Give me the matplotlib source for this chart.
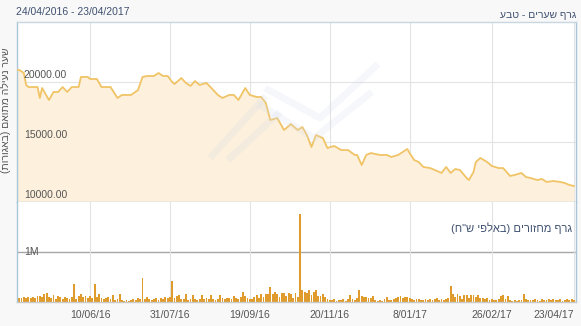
import numpy as np
import matplotlib
matplotlib.use("Agg")
import matplotlib.pyplot as plt
from matplotlib.lines import Line2D

plt.rcParams['font.family'] = ['Liberation Sans', 'DejaVu Sans']

# trading-day index -> adjusted close (agorot)
price_day = [0, 1, 3, 4, 5, 7, 9, 10, 11, 14, 16, 18, 20, 22, 24, 27, 28, 31, 32, 35,
             37, 41, 44, 46, 50, 53, 55, 57, 60, 62, 64, 66, 68, 69, 72, 74, 76, 78, 80, 83,
             86, 88, 90, 93, 95, 97, 100, 102, 105, 107, 109, 111, 114, 115, 117, 119, 120, 123, 125, 127,
             129, 131, 134, 136, 139, 142, 145, 148, 149, 151, 153, 155, 159, 162, 164, 167, 171, 172, 174, 176,
             178, 181, 183, 186, 188, 190, 192, 194, 197, 198, 200, 201, 203, 206, 208, 211, 213, 216, 218, 221,
             223, 225, 228, 230, 232, 235, 238, 240, 242, 244]
price_val = [21000, 21000, 20750, 19750, 19580, 19580, 19580, 18670, 19500, 18500,
             19170, 19170, 19580, 19170, 19580, 19580, 20420, 20420, 20250, 20250,
             19580, 19580, 18670, 18920, 18920, 19330, 20420, 20500, 20500, 20750,
             20500, 20500, 20000, 19830, 20330, 19920, 19670, 20080, 19750, 19920,
             19330, 18920, 18670, 18920, 18920, 18500, 19500, 18920, 18750, 18750,
             18250, 16830, 17000, 16670, 16000, 16330, 16500, 16000, 16250, 15580,
             14580, 15580, 15330, 14500, 14670, 14330, 14330, 13920, 13920, 13080,
             13920, 14080, 13920, 13920, 13750, 13920, 14420, 14080, 13500, 13330,
             12920, 12830, 12670, 12420, 12920, 12420, 12750, 12670, 12000, 11830,
             12500, 13330, 13670, 13330, 13000, 12830, 12830, 12170, 12250, 12420,
             12080, 12000, 11830, 11920, 11670, 11750, 11670, 11580, 11420, 11330]

# daily turnover, thousands of NIS
volume = [80, 90, 85, 95, 90, 100, 85, 110, 90, 120,
          130, 100, 160, 180, 110, 90, 140, 70, 120, 100,
          70, 110, 90, 60, 110, 370, 60, 120, 160, 100,
          130, 90, 120, 80, 370, 110, 170, 80, 60, 90,
          100, 70, 150, 50, 60, 160, 40, 30, 40, 30,
          50, 60, 40, 80, 60, 490, 70, 110, 60, 50,
          70, 90, 50, 80, 60, 100, 80, 110, 420, 90,
          130, 150, 70, 60, 160, 50, 70, 140, 60, 40,
          60, 140, 60, 80, 70, 150, 60, 40, 70, 140,
          80, 60, 80, 90, 70, 120, 90, 60, 110, 200,
          120, 80, 60, 70, 100, 140, 90, 170, 110, 160,
          170, 300, 170, 200, 170, 110, 180, 190, 120, 180,
          170, 90, 190, 100, 1760, 240, 200, 180, 240, 140,
          200, 240, 130, 120, 160, 100, 60, 50, 40, 60,
          30, 50, 40, 60, 30, 70, 140, 60, 50, 80,
          240, 120, 100, 110, 90, 80, 130, 40, 30, 50,
          30, 60, 100, 40, 50, 60, 80, 100, 120, 90,
          110, 100, 80, 60, 40, 70, 60, 50, 40, 60,
          50, 70, 40, 60, 80, 50, 60, 40, 70, 90,
          320, 160, 100, 160, 120, 70, 150, 140, 90, 150,
          140, 110, 140, 80, 90, 60, 80, 40, 60, 50,
          40, 70, 120, 140, 60, 120, 40, 30, 40, 30,
          40, 50, 170, 60, 40, 50, 40, 60, 50, 30,
          60, 40, 50, 70, 40, 60, 50, 40, 60, 30,
          50, 70, 40, 60, 50]

tick_day = [32, 67, 102, 137, 172, 208, 244]
tick_lab = ["10/06/16", "31/07/16", "19/09/16", "20/11/16", "8/01/17", "26/02/17", "23/04/17"]

period = "24/04/2016 - 23/04/2017"
title_price = "גרף שערים - טבע"
title_vol = 'גרף מחזורים (באלפי ש"ח)'
ylabel = "שער נעילה מתואם (באגורות)"


def heb(s):
    # no bidi in matplotlib: put the text in visual order by hand
    swap = {"(": ")", ")": "("}
    return "".join(swap.get(c, c) for c in s[::-1])


W, H = 581, 326
fig = plt.figure(figsize=(W / 100, H / 100), dpi=100, facecolor="#f8f8f8")
ax1 = fig.add_axes([17 / W, 1 - 202 / H, 559 / W, 180 / H])
ax2 = fig.add_axes([17 / W, 1 - 302 / H, 559 / W, 100 / H])

border = "#a9c6d9"
grid_c = "#e3e3e3"
txt = "#555555"
navy = "#3f5170"

# price panel
ax1.fill_between(price_day, price_val, 10000, color="#fdf0dc", lw=0, zorder=1)
ax1.plot(price_day, price_val, color="#f0c466", lw=1.3, zorder=3)
ax1.set_xlim(0, 244.9)
ax1.set_ylim(10000, 25000)
ax1.set_xticks(tick_day)
ax1.set_yticks([15000, 20000])
ax1.tick_params(length=0, labelbottom=False, labelleft=False)
ax1.grid(True, color=grid_c, lw=0.8, zorder=0)
ax1.set_axisbelow(True)
for v in [10000, 15000, 20000]:
    ax1.text(3, v + 180, f"{v:.2f}", fontsize=7.5, color=txt, va="bottom", ha="left", zorder=4)
for s in ax1.spines.values():
    s.set_color(border)
    s.set_linewidth(1)
ax1.spines["top"].set_color("#c8d6df")

# volume panel
ax2.bar(range(len(volume)), np.array(volume) * 1000, width=0.8, color="#df9b2c", lw=0, zorder=2)
ax2.set_xlim(0, 244.9)
ax2.set_ylim(0, 2000000)
ax2.set_xticks(tick_day)
ax2.set_xticklabels(tick_lab, fontsize=7.5, color=txt)
ax2.set_yticks([])
ax2.tick_params(length=0, pad=6)
ax2.grid(True, axis="x", color=grid_c, lw=0.8, zorder=0)
ax2.axhline(1000000, color="#a7a7a7", lw=1, zorder=1)
ax2.text(3, 1000000, "1M", fontsize=7.5, color=txt, va="center", ha="left", zorder=3)
ax2.get_xticklabels()[-1].set_ha("right")
ax2.get_xticklabels()[-1].set_x(244.9)
for s in ax2.spines.values():
    s.set_color(border)
    s.set_linewidth(1)
ax2.spines["bottom"].set_color("#c9c9c9")
ax2.spines["top"].set_visible(False)
ax2.text(0.993, 0.74, heb(title_vol), transform=ax2.transAxes, fontsize=8,
         color=navy, ha="right", va="center")

# faint logo watermark behind the price line
for pts in [[(265, 88), (320, 118), (378, 64)],
            [(258, 104), (314, 138), (372, 92)],
            [(210, 158), (266, 96)],
            [(228, 160), (280, 112)]]:
    xs = [p[0] / W for p in pts]
    ys = [1 - p[1] / H for p in pts]
    fig.add_artist(Line2D(xs, ys, transform=fig.transFigure, color="#d5ddec",
                          lw=5, alpha=0.22, solid_capstyle="butt", zorder=2))

fig.text(16 / W, 1 - 12 / H, period, fontsize=7.5, color=navy, ha="left", va="center")
fig.text(576 / W, 1 - 15 / H, heb(title_price), fontsize=7.5, color=navy, ha="right", va="center")
fig.text(6 / W, 1 - 110 / H, heb(ylabel), fontsize=7.5, color=txt, rotation=90,
         ha="center", va="center")

fig.savefig("out.png", dpi=100, facecolor=fig.get_facecolor())
